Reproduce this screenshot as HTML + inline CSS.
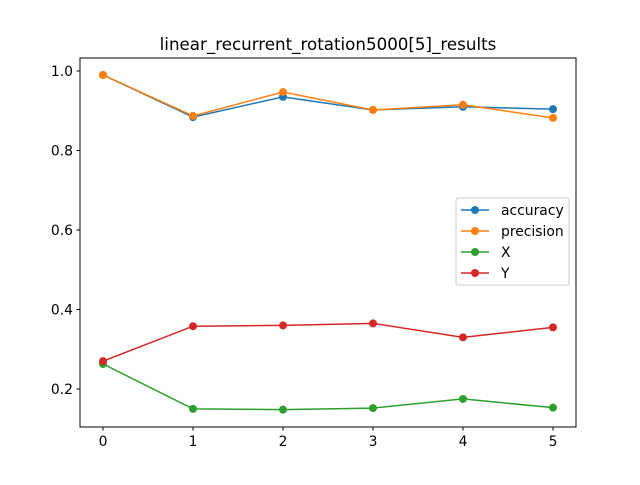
<!DOCTYPE html>
<html><head><meta charset="utf-8"><style>
body{margin:0;background:#fff;}
svg text{font-family:"DejaVu Sans","Liberation Sans",sans-serif;}
</style></head><body>
<svg id="chart" width="640" height="480" xmlns="http://www.w3.org/2000/svg">
<rect width="640" height="480" fill="#fff"/>
<text x="328" y="50" font-size="16.7" text-anchor="middle">linear_recurrent_rotation5000[5]_results</text>
<g id="marks"></g>
<rect x="80" y="58" width="496" height="369" fill="none" stroke="#000" stroke-width="1"/>
<g id="ticks"></g>
<g id="legend"></g>
</svg>
<script>
const categories=[0,1,2,3,4,5];
const accuracy=[0.990,0.884,0.935,0.902,0.910,0.904];
const precision=[0.990,0.887,0.947,0.902,0.915,0.882];
const xSeries=[0.263,0.150,0.148,0.152,0.175,0.153];
const ySeries=[0.270,0.358,0.360,0.365,0.330,0.355];
const yTicks=[0.2,0.4,0.6,0.8,1.0];
const seriesNames=["accuracy","precision","X","Y"];
const colors=["#1f77b4","#ff7f0e","#2ca02c","#d62728"];
const NS="http://www.w3.org/2000/svg";
function sx(v){return 103+v*90;}
function sy(v){return 71+(1.0-v)*397.5;}
function mk(t,a,p){const e=document.createElementNS(NS,t);for(const k in a)e.setAttribute(k,a[k]);p.appendChild(e);return e;}
const marks=document.getElementById('marks');
[accuracy,precision,xSeries,ySeries].forEach((s,i)=>{
 const g=mk('g',{},marks);
 
 
 const pl=mk('polyline',{points:s.map((v,j)=>sx(categories[j])+','+sy(v)).join(' '),fill:'none',stroke:colors[i],'stroke-width':1.5},g);
 
 
 s.forEach((v,j)=>{const c=mk('circle',{cx:sx(categories[j]),cy:sy(v),r:4,fill:colors[i]},g);
 
 });
});
const tk=document.getElementById('ticks');
categories.forEach(c=>{mk('line',{x1:sx(c),x2:sx(c),y1:427,y2:430.5,stroke:'#000'},tk);
 const t=mk('text',{x:sx(c),y:446,'font-size':13.9,'text-anchor':'middle'},tk);t.textContent=c;
 
 });
yTicks.forEach(v=>{mk('line',{x1:76.5,x2:80,y1:sy(v),y2:sy(v),stroke:'#000'},tk);
 const t=mk('text',{x:73,y:sy(v)+5,'font-size':13.9,'text-anchor':'end'},tk);t.textContent=v.toFixed(1);
 
 });
const lg=document.getElementById('legend');
mk('rect',{x:456,y:198,width:113,height:87,rx:2,fill:'#fff',stroke:'#ccc'},lg);
seriesNames.forEach((n,i)=>{const y=210+i*21;
 const g=mk('g',{},lg);
 
 
 mk('line',{x1:461,x2:489,y1:y,y2:y,stroke:colors[i],'stroke-width':1.5},g);
 mk('circle',{cx:475,cy:y,r:4,fill:colors[i]},g);
 const t=mk('text',{x:501,y:y+5,'font-size':13.9},g);t.textContent=n;});
</script>
</body></html>
